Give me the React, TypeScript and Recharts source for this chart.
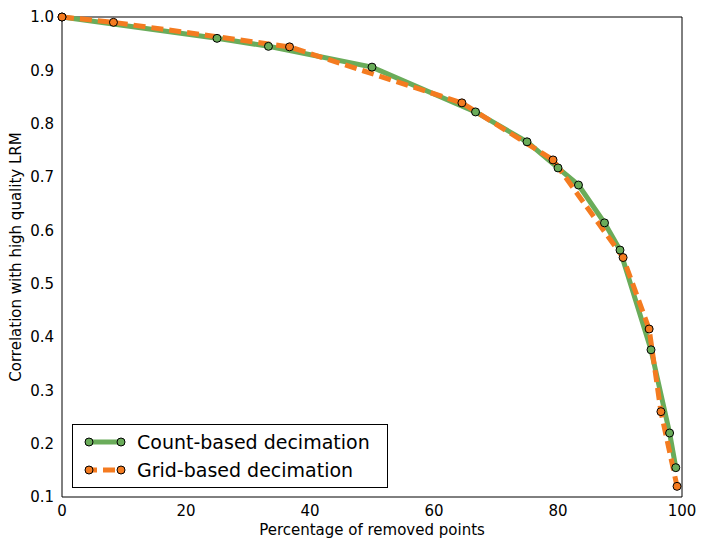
import { LineChart, Line, XAxis, YAxis, ReferenceArea } from 'recharts';

const countX = [0, 25, 33.3, 50, 66.7, 75, 80, 83.3, 87.5, 90, 95, 98, 99];
const countY = [1.0, 0.96, 0.945, 0.906, 0.822, 0.766, 0.717, 0.685, 0.614, 0.563, 0.376, 0.22, 0.155];
const gridX = [0, 8.3, 36.7, 64.5, 79.2, 90.5, 94.7, 96.6, 99.2];
const gridY = [1.0, 0.99, 0.944, 0.839, 0.732, 0.549, 0.415, 0.26, 0.12];
const xTicks = [0, 20, 40, 60, 80, 100];
const yTicks = [0.1, 0.2, 0.3, 0.4, 0.5, 0.6, 0.7, 0.8, 0.9, 1.0];

const countData = countX.map((x, i) => ({ x, y: countY[i] }));
const gridData = gridX.map((x, i) => ({ x, y: gridY[i] }));

const GREEN = '#6aac5a';
const ORANGE = '#f47b20';
const font = 'DejaVu Sans';

const App = () => {
  return (
    <div style={{ position: 'relative', margin: -8, width: 706, height: 550, fontFamily: font }}>
      <LineChart width={706} height={550} margin={{ top: 17, right: 24, bottom: 13, left: 12 }}>
        <XAxis
          dataKey='x'
          type='number'
          domain={[0, 100]}
          ticks={xTicks}
          tickLine={false}
          axisLine={false}
          height={40}
          tick={{ fontSize: 15, fill: '#000', fontFamily: font }}
          label={{ value: 'Percentage of removed points', position: 'insideBottom', offset: 2, fontSize: 15, fill: '#000', fontFamily: font }}
        />
        <YAxis
          dataKey='y'
          type='number'
          domain={[0.1, 1.0]}
          ticks={yTicks}
          tickLine={false}
          axisLine={false}
          width={50}
          tickFormatter={(v) => v.toFixed(1)}
          tick={{ fontSize: 15, fill: '#000', fontFamily: font }}
        />
        <ReferenceArea x1={0} x2={100} y1={0.1} y2={1.0} fill='none' stroke='#000' strokeWidth={1} ifOverflow='visible' />
        <Line
          data={countData}
          dataKey='y'
          stroke={GREEN}
          strokeWidth={5}
          dot={{ r: 4, fill: GREEN, stroke: '#000', strokeWidth: 1 }}
          isAnimationActive={false}
        />
        <Line
          data={gridData}
          dataKey='y'
          stroke={ORANGE}
          strokeWidth={5}
          strokeDasharray='12 6'
          dot={{ r: 4, fill: ORANGE, stroke: '#000', strokeWidth: 1, strokeDasharray: '' }}
          isAnimationActive={false}
        />
      </LineChart>
      <div style={{ position: 'absolute', left: 16, top: 257, transform: 'translate(-50%, -50%) rotate(-90deg)', whiteSpace: 'nowrap', fontSize: 15 }}>
        Correlation with high quality LRM
      </div>
      <div style={{ position: 'absolute', left: 72, top: 424, width: 314, height: 62, border: '1px solid #000', background: '#fff', fontSize: 19 }}>
        {[{ c: GREEN, t: 'Count-based decimation', d: false }, { c: ORANGE, t: 'Grid-based decimation', d: true }].map((e, i) => (
          <div key={i} style={{ display: 'flex', alignItems: 'center', height: 28, marginTop: i === 0 ? 3 : 0 }}>
            <svg width={60} height={20} style={{ marginLeft: 6 }}>
              <line x1={6} y1={10} x2={46} y2={10} stroke={e.c} strokeWidth={5} strokeDasharray={e.d ? '12 6' : undefined} />
              <circle cx={10} cy={10} r={4} fill={e.c} stroke='#000' />
              <circle cx={42} cy={10} r={4} fill={e.c} stroke='#000' />
            </svg>
            <span style={{ marginLeft: -2 }}>{e.t}</span>
          </div>
        ))}
      </div>
    </div>
  );
};

export default App;
